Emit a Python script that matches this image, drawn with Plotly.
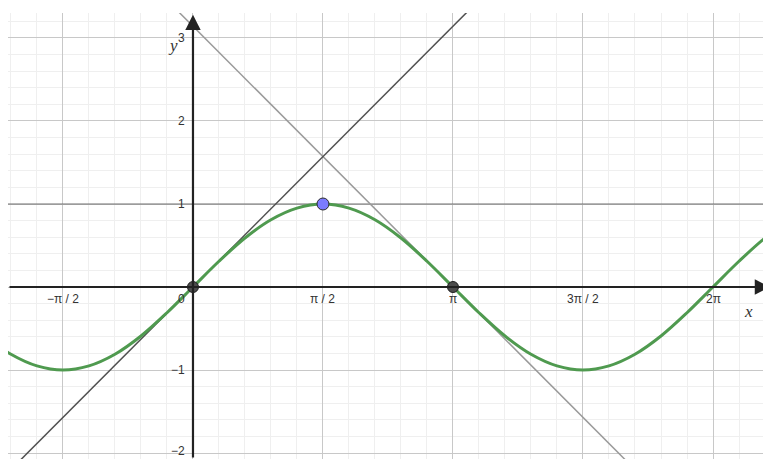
import math
import plotly.graph_objects as go

curve_steps = list(range(-8, 24))
curve_x = [k * math.pi / 10 for k in curve_steps]
curve_y = [-0.59, -0.81, -0.95, -1.00, -0.95, -0.81, -0.59, -0.31,
           0.00, 0.31, 0.59, 0.81, 0.95, 1.00, 0.95, 0.81, 0.59, 0.31,
           0.00, -0.31, -0.59, -0.81, -0.95, -1.00, -0.95, -0.81, -0.59, -0.31,
           0.00, 0.31, 0.59, 0.81]

# tangent lines y = x, y = pi - x and y = 1
tan0_x = [-3.0, 4.0]
tan0_y = [-3.0, 4.0]
tanpi_x = [-1.0, 6.0]
tanpi_y = [math.pi + 1.0, math.pi - 6.0]
flat_x = [-3.0, 8.0]
flat_y = [1.0, 1.0]

# marked points
dark_pts_x = [0.0, math.pi]
dark_pts_y = [0.0, 0.0]
top_pt_x = [math.pi / 2]
top_pt_y = [1.0]

# axis tick labels
xtick_vals = [-math.pi / 2, math.pi / 2, math.pi, 3 * math.pi / 2, 2 * math.pi]
xtick_text = ['\u2212\u03c0 / 2', '\u03c0 / 2', '\u03c0', '3\u03c0 / 2', '2\u03c0']
ytick_vals = [-2, -1, 1, 2, 3]
ytick_text = ['\u22122', '\u22121', '1', '2', '3']

x_range = [-2.235, 6.984]
y_range = [-2.072, 3.301]

fig = go.Figure()

fig.add_trace(go.Scatter(x=flat_x, y=flat_y, mode='lines',
                         line=dict(color='#707070', width=1.2), hoverinfo='skip'))
fig.add_trace(go.Scatter(x=tanpi_x, y=tanpi_y, mode='lines',
                         line=dict(color='#9a9a9a', width=1.5), hoverinfo='skip'))
fig.add_trace(go.Scatter(x=tan0_x, y=tan0_y, mode='lines',
                         line=dict(color='#505050', width=1.5), hoverinfo='skip'))

tick_font = dict(family='Liberation Sans, Arial, sans-serif', size=12, color='#333333')
annotations = []

# axes with arrowheads
annotations.append(dict(x=x_range[1] - 0.01, y=0, ax=x_range[0], ay=0, xref='x', yref='y',
                        axref='x', ayref='y', text='', showarrow=True, arrowhead=2,
                        arrowsize=1.4, arrowwidth=2.2, arrowcolor='#222222'))
annotations.append(dict(x=0, y=y_range[1] - 0.02, ax=0, ay=y_range[0], xref='x', yref='y',
                        axref='x', ayref='y', text='', showarrow=True, arrowhead=2,
                        arrowsize=1.4, arrowwidth=2.2, arrowcolor='#222222'))

for v, t in zip(xtick_vals, xtick_text):
    annotations.append(dict(x=v, y=0, text=t, showarrow=False, xanchor='center',
                            yanchor='top', yshift=-3, font=tick_font))
annotations.append(dict(x=0, y=0, text='0', showarrow=False, xanchor='right',
                        yanchor='top', xshift=-6, yshift=-3, font=tick_font))
for v, t in zip(ytick_vals, ytick_text):
    annotations.append(dict(x=0, y=v, text=t, showarrow=False, xanchor='right',
                            yanchor='middle', xshift=-6, yshift=2 if v == -2 else 0,
                            font=tick_font))

label_font = dict(family='Liberation Serif, DejaVu Serif, serif', size=17, color='#333333')
annotations.append(dict(x=0, y=3, text='<i>y</i>', showarrow=False, xanchor='right',
                        yanchor='middle', xshift=-13, yshift=-8, font=label_font))
annotations.append(dict(x=6.71, y=-0.3, text='<i>x</i>', showarrow=False, xanchor='center',
                        yanchor='middle', font=label_font))

fig.add_trace(go.Scatter(x=curve_x, y=curve_y, mode='lines',
                         line=dict(color='#4f9a4f', width=3, shape='spline'), hoverinfo='skip'))
fig.add_trace(go.Scatter(x=dark_pts_x, y=dark_pts_y, mode='markers',
                         marker=dict(size=11, color='#4d4d4d', line=dict(color='#1e1e1e', width=1)),
                         hoverinfo='skip'))
fig.add_trace(go.Scatter(x=top_pt_x, y=top_pt_y, mode='markers',
                         marker=dict(size=12, color='#7b7bff', line=dict(color='#2a2a2a', width=1)),
                         hoverinfo='skip'))

# the page body adds an 8px margin, so the figure is sized to fit inside it
fig.update_layout(
    width=763, height=451,
    margin=dict(l=0, r=0, t=5, b=0),
    paper_bgcolor='white', plot_bgcolor='white',
    showlegend=False,
    annotations=annotations,
    xaxis=dict(range=x_range, tick0=0, dtick=math.pi / 2, showgrid=True,
               gridcolor='#c8c8c8', gridwidth=1, zeroline=False, showticklabels=False,
               ticks='', showline=False, fixedrange=True,
               minor=dict(tick0=0, dtick=math.pi / 10, showgrid=True,
                          gridcolor='#efefef', gridwidth=1)),
    yaxis=dict(range=y_range, tick0=0, dtick=1, showgrid=True,
               gridcolor='#c8c8c8', gridwidth=1, zeroline=False, showticklabels=False,
               ticks='', showline=False, fixedrange=True,
               minor=dict(tick0=0, dtick=0.2, showgrid=True,
                          gridcolor='#efefef', gridwidth=1)),
)

fig.write_html("out.html")
